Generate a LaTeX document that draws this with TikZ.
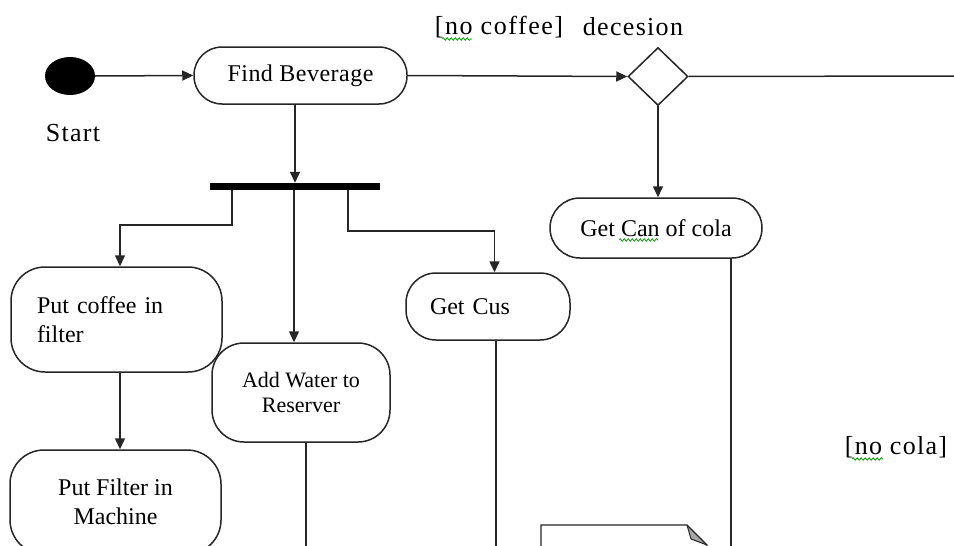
\documentclass[tikz,border=0pt]{standalone}
\usepackage{fontspec}
\setmainfont{Liberation Serif}
\usetikzlibrary{shapes.geometric,arrows.meta,decorations.pathmorphing}
\tikzset{
  act/.style={draw=black!85, line width=1.5pt, rounded corners=28pt, inner sep=0pt, align=center},
  lbl/.style={font=\fontsize{24}{29}\selectfont, inner sep=0pt},
  biglbl/.style={font=\fontsize{26}{30}\selectfont, inner sep=0pt},
  arr/.style={draw=black!85, line width=1.5pt, -{Triangle[length=11pt,width=10pt]}},
  ln/.style={draw=black!85, line width=1.5pt},
  squig/.style={draw=green!60!black, line width=0.7pt, decorate, decoration={snake, amplitude=1.3pt, segment length=4pt}}
}
\begin{document}
\begin{tikzpicture}[x=1pt,y=-1pt]
\clip (0,0) rectangle (954,546);
\fill[white] (0,0) rectangle (954,546);
% start
\node[ellipse, fill=black, minimum width=50pt, minimum height=38pt, inner sep=0pt] (start) at (70,76) {};
\node[biglbl] (startlbl) at (73,133) {\addfontfeatures{LetterSpace=5}Start};
% activities
\node[act, lbl, minimum width=213pt, minimum height=57pt] (fb) at (300.5,75.5) {\addfontfeatures{LetterSpace=2}Find Beverage};
\node[draw=black!85, line width=1.5pt, diamond, aspect=1, minimum width=60pt, minimum height=58pt, inner sep=0pt] (dia) at (658,76.5) {};
\node[biglbl] (nocoffee) at (499,27) {\addfontfeatures{LetterSpace=6}[no coffee]};
\node[biglbl] (decesion) at (633,27) {\addfontfeatures{LetterSpace=5}decesion};
\node[act, lbl, rounded corners=30pt, minimum width=212pt, minimum height=60pt] (gcc) at (656,228) {Get Can of cola};
\node[fill=black, minimum width=170pt, minimum height=7pt, inner sep=0pt] (bar) at (295,186.5) {};
\node[act, lbl, rounded corners=34pt, minimum width=211pt, minimum height=105pt, text width=159pt, align=left] (pcf) at (116.5,319.5) {Put coffee in\\filter};
\node[act, lbl, rounded corners=34pt, minimum width=211pt, minimum height=104pt] (pfm) at (115.5,502) {Put Filter in\\Machine};
\node[act, font=\fontsize{22}{25}\selectfont, rounded corners=32pt, minimum width=178pt, minimum height=99pt] (aw) at (301,392.5) {Add Water to\\Reserver};
\node[act, lbl, rounded corners=30pt, minimum width=164pt, minimum height=67pt, text width=116pt, align=left] (gc) at (488,306.5) {Get Cus};
\node[biglbl] (nocola) at (896,447) {\addfontfeatures{LetterSpace=5}[no cola]};
% note (cut off at bottom)
\coordinate (n1) at (541,560);
\coordinate (n2) at (541,525);
\coordinate (n3) at (687,525);
\coordinate (n4) at (707,545);
\coordinate (n5) at (707,560);
\coordinate (n6) at (691,539);
\fill[black!35] (n3) -- (n4) -- (n6) -- cycle;
\draw[ln, line width=1.2pt] (n1) -- (n2) -- (n3) -- (n4) -- (n5);
\draw[ln, line width=1pt] (n3) -- (n6) -- (n4);
% connectors
\coordinate (edge) at (960,76);
\draw[arr] (start.east) -- (fb.west);
\draw[arr] (fb.east) -- (dia.west);
\draw[ln] (dia.east) -- (edge);
\draw[arr] (dia.south) -- (dia.south |- gcc.north);
\draw[arr] (bar.north |- fb.south) -- (bar.north);
\draw[arr] ([xshift=-63pt]bar.south) -- ++(0,35) -| ([xshift=3.5pt]pcf.north);
\draw[arr] ([xshift=-1pt]bar.south) -- ([xshift=-1pt]bar.south |- aw.north);
\draw[arr] ([xshift=53pt]bar.south) -- ++(0,41) -| ([xshift=6.5pt]gc.north);
\draw[arr] ([xshift=3.5pt]pcf.south) -- ([xshift=3.5pt]pcf.south |- pfm.north);
\draw[ln] ([xshift=5pt]aw.south) -- ++(0,120);
\draw[ln] ([xshift=8pt]gc.south) -- ++(0,230);
\draw[ln] ([xshift=75pt]gcc.south) -- ++(0,300);
% spell-check squiggles
\coordinate (s1a) at (442,39); \coordinate (s1b) at (472,39);
\coordinate (s2a) at (619,240); \coordinate (s2b) at (658,240);
\coordinate (s3a) at (852,459); \coordinate (s3b) at (883,459);
\draw[squig] (s1a) -- (s1b);
\draw[squig] (s2a) -- (s2b);
\draw[squig] (s3a) -- (s3b);
\end{tikzpicture}
\end{document}
